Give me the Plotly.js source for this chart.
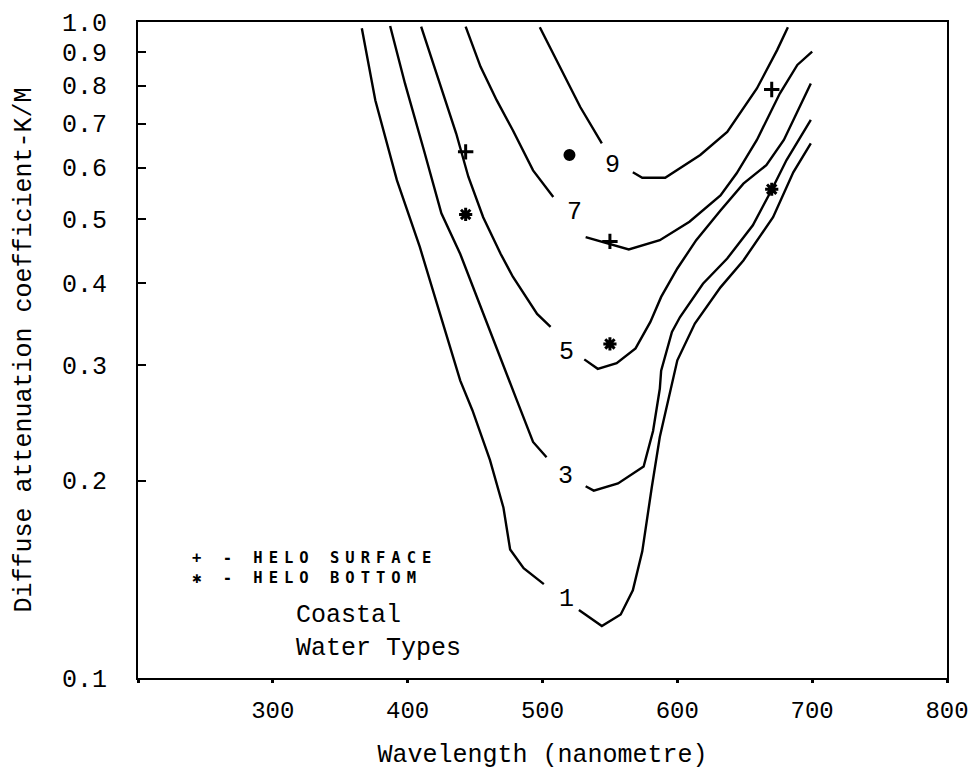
<!DOCTYPE html>
<html>
<head>
<meta charset="utf-8">
<script src="https://cdn.plot.ly/plotly-3.0.1.min.js"></script>
<style>html,body{margin:0;padding:0;background:#fff;}</style>
</head>
<body>
<div id="chart" style="width:979px;height:770px;"></div>
<script>
// Coastal water types: diffuse attenuation coefficient K (per metre) vs wavelength (nm)
// Each curve has a left and a right branch separated by a gap where the label sits.
const wl1 = [366, 376, 392, 409, 424, 439, 448, 461, 471, 476, 486, 501, null, 527, 544, 558, 567, 574, 577, 581, 587, 592, 595, 600, 613, 632, 649, 671, 686, 699];
const k1  = [0.978, 0.760, 0.574, 0.454, 0.359, 0.284, 0.256, 0.215, 0.182, 0.157, 0.147, 0.139, null, 0.127, 0.120, 0.125, 0.136, 0.156, 0.172, 0.195, 0.233, 0.259, 0.276, 0.305, 0.347, 0.394, 0.433, 0.504, 0.590, 0.653];

const wl3 = [387, 398, 412, 425, 439, 454, 475, 481, 493, 503, null, 532, 538, 556, 575, 582, 587, 588, 596, 602, 619, 637, 656, 670, 681, 699];
const k3  = [0.986, 0.806, 0.638, 0.511, 0.443, 0.368, 0.284, 0.265, 0.229, 0.217, null, 0.196, 0.193, 0.198, 0.210, 0.238, 0.276, 0.294, 0.337, 0.355, 0.399, 0.436, 0.490, 0.555, 0.616, 0.709];

const wl5 = [410, 424, 436, 445, 456, 469, 478, 496, 506, null, 531, 541, 555, 569, 580, 588, 600, 614, 632, 649, 666, 679, 699];
const k5  = [0.984, 0.806, 0.676, 0.581, 0.504, 0.443, 0.409, 0.359, 0.343, null, 0.306, 0.296, 0.302, 0.318, 0.349, 0.381, 0.421, 0.465, 0.516, 0.567, 0.605, 0.661, 0.806];

const wl7 = [443, 454, 466, 478, 493, 508, null, 532, 550, 564, 587, 609, 632, 644, 659, 676, 689, 700];
const k7  = [0.984, 0.855, 0.760, 0.684, 0.594, 0.541, null, 0.470, 0.459, 0.450, 0.465, 0.496, 0.544, 0.588, 0.661, 0.778, 0.860, 0.901];

const wl9 = [498, 513, 528, 544, null, 567, 574, 591, 617, 637, 659, 674, 682];
const k9  = [0.982, 0.855, 0.742, 0.653, null, 0.590, 0.579, 0.579, 0.627, 0.680, 0.792, 0.906, 0.982];

const curveNames = ['1', '3', '5', '7', '9'];
const curveLabelWl = [517.5, 517, 517.5, 524, 552];
const curveLabelK  = [0.1315, 0.203, 0.314, 0.512, 0.605];

// HELO measurements
const surfaceWl = [443, 550, 670];
const surfaceK  = [0.634, 0.463, 0.789];
const bottomWl  = [443, 520, 550, 670];
const bottomK   = [0.509, 0.627, 0.323, 0.556];

// Axis ticks
const xTickVals = [200, 300, 400, 500, 600, 700, 800];
const xTickText = ['', '300', '400', '500', '600', '700', '800'];
const yTickVals = [0.1, 0.2, 0.3, 0.4, 0.5, 0.6, 0.7, 0.8, 0.9, 1.0];
const yTickText = ['0.1', '0.2', '0.3', '0.4', '0.5', '0.6', '0.7', '0.8', '0.9', '1.0'];

const curveX = [wl1, wl3, wl5, wl7, wl9];
const curveY = [k1, k3, k5, k7, k9];

const traces = curveX.map((xs, i) => ({
  type: 'scatter', mode: 'lines', x: xs, y: curveY[i],
  name: 'Type ' + curveNames[i], connectgaps: false,
  line: {color: '#000', width: 2.4}, hoverinfo: 'x+y+name'
}));
traces.push({
  type: 'scatter', mode: 'markers', x: surfaceWl, y: surfaceK, name: 'HELO SURFACE',
  marker: {symbol: 'cross-thin-open', size: 11, color: '#000', opacity: 1, line: {color: '#000', width: 3}}
});
traces.push({
  type: 'scatter', mode: 'markers', x: bottomWl, y: bottomK, name: 'HELO BOTTOM',
  marker: {symbol: ['asterisk-open', 'circle', 'asterisk-open', 'asterisk-open'], size: [11, 9, 11, 11], color: '#000', opacity: 1, line: {color: '#000', width: 3}}
});

const mono = 'Liberation Mono, Courier New, monospace';
const annotations = curveNames.map((n, i) => ({
  x: curveLabelWl[i], y: Math.log10(curveLabelK[i]), xref: 'x', yref: 'y',
  text: n, showarrow: false, font: {family: mono, size: 25, color: '#000'}
}));
const legendFont = {family: 'DejaVu Sans Mono, monospace', size: 15.5, color: '#000', weight: 'bold'};
annotations.push({
  x: 238.6, y: Math.log10(0.1469), xref: 'x', yref: 'y', xanchor: 'left', yanchor: 'middle', align: 'left',
  text: '<span style="letter-spacing:6px">+ - HELO SURFACE</span><br><span style="letter-spacing:6px">✱ - HELO BOTTOM</span>',
  showarrow: false, font: legendFont
});
annotations.push({
  x: 316, y: Math.log10(0.1176), xref: 'x', yref: 'y', xanchor: 'left', yanchor: 'middle', align: 'left',
  text: 'Coastal<br>Water Types', showarrow: false, font: {family: mono, size: 25, color: '#000'}
});

const layout = {
  width: 979, height: 770,
  margin: {l: 138, r: 32, t: 22, b: 92},
  paper_bgcolor: '#fff', plot_bgcolor: '#fff',
  showlegend: false,
  font: {family: mono, size: 25, color: '#000'},
  xaxis: {
    range: [200, 800], tickmode: 'array', tickvals: xTickVals, ticktext: xTickText,
    ticks: 'outside', ticklen: 3, tickwidth: 3, tickcolor: '#000',
    showline: true, linewidth: 2, linecolor: '#000', mirror: true,
    showgrid: false, zeroline: false, ticklabelstandoff: 6,
    tickfont: {family: mono, size: 24, color: '#000'},
    title: {text: 'Wavelength (nanometre)', standoff: 28, font: {family: mono, size: 25, color: '#000'}}
  },
  yaxis: {
    type: 'log', range: [-1, 0], tickmode: 'array', tickvals: yTickVals, ticktext: yTickText,
    ticks: 'inside', ticklen: 8, tickwidth: 2, tickcolor: '#000',
    showline: true, linewidth: 2, linecolor: '#000', mirror: true,
    showgrid: false, zeroline: false, ticklabelstandoff: 24,
    tickfont: {family: mono, size: 25, color: '#000'},
    title: {text: 'Diffuse attenuation coefficient-K/M', standoff: 23, font: {family: mono, size: 25, color: '#000'}}
  },
  annotations: annotations
};

Plotly.newPlot('chart', traces, layout, {displayModeBar: false, staticPlot: true});
</script>
</body>
</html>
